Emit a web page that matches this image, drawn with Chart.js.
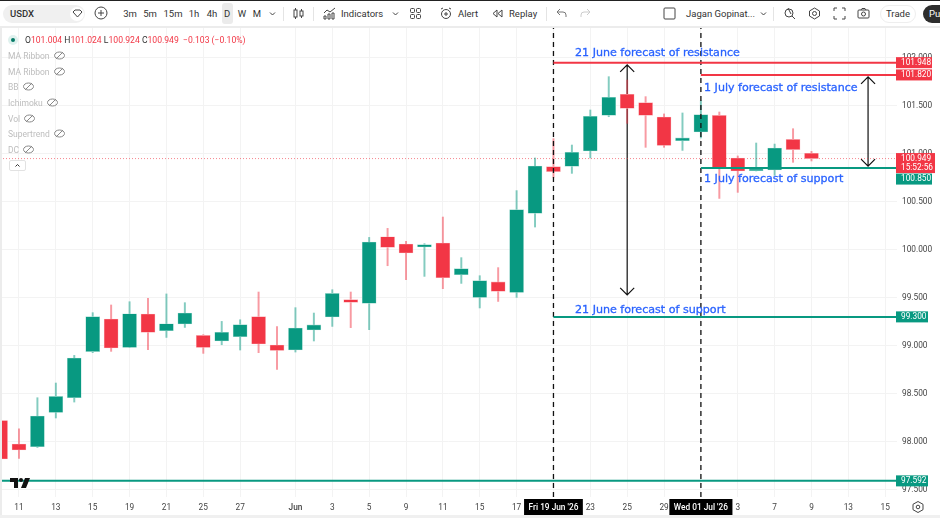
<!DOCTYPE html>
<html>
<head>
<meta charset="utf-8">
<title>USDX</title>
<script src="https://cdn.jsdelivr.net/npm/chart.js@4/dist/chart.umd.min.js"></script>
<style>
  html, body { margin: 0; padding: 0; background: #fff; }
  #wrap { position: relative; width: 940px; height: 518px; overflow: hidden; font-family: Roboto, sans-serif; }
  canvas { position: absolute; left: 0; top: 0; }
  #bar { position: absolute; left: 0; top: 0; width: 940px; height: 26px; background: #fff; border-top: 1px solid #222; box-sizing: border-box; }
  #sep { position: absolute; left: 0; top: 26px; width: 940px; height: 2px; background: #ececec; }
  #side { position: absolute; left: 0; top: 26px; width: 2px; height: 492px; background: #ececec; }
  #foot { position: absolute; left: 0; top: 515px; width: 940px; height: 3px; background: #f0f0f0; }
  .t { position: absolute; top: 12px; transform: translateY(-50%); font-size: 9.5px; color: #333; white-space: nowrap; }
  .c { transform: translate(-50%, -50%); }
  .v { position: absolute; width: 1px; height: 14px; top: 6px; background: #e4e4e4; }
  svg.i { position: absolute; top: 6px; width: 13px; height: 13px; fill: none; stroke: #444; stroke-width: 1; }
  #pill { position: absolute; left: 3px; top: 4px; width: 82px; height: 18px; border-radius: 9px; background: #f0f0f0; }
  #dia { position: absolute; left: 70px; top: 6px; width: 14px; height: 14px; border-radius: 7px; background: #fff; }
  #dbox { position: absolute; left: 222px; top: 2px; width: 11px; height: 21px; border-radius: 3px; background: #ebebeb; }
  #trade { position: absolute; left: 880px; top: 4px; width: 36px; height: 18px; border-radius: 9px; border: 1px solid #eee; box-sizing: border-box; }
  #pub { position: absolute; left: 923px; top: 4px; width: 30px; height: 18px; border-radius: 9px; background: #2e2e2e; color: #fff; font-size: 9.5px; line-height: 18px; padding-left: 6px; box-sizing: border-box; }
  .leg { position: absolute; left: 8px; font-size: 8.5px; color: #bdbdbd; transform: translateY(-50%); white-space: nowrap; }
  .leg svg { width: 11px; height: 9px; vertical-align: -1px; margin-left: 4px; fill: none; stroke: #888; stroke-width: 1; }
  #ohlc { position: absolute; left: 25px; top: 40px; transform: translateY(-50%); font-size: 8.6px; color: #f23645; white-space: nowrap; }
  #ohlc b { color: #333; font-weight: 400; }
  #dot { position: absolute; left: 8px; top: 34.500px; width: 10px; height: 10px; border-radius: 5px; background: #dff1ee; }
  #dot i { position: absolute; left: 3px; top: 3px; width: 4px; height: 4px; border-radius: 2px; background: #067a66; }
  #up { position: absolute; left: 9px; top: 160px; width: 17px; height: 11px; border: 1px solid #e2e2e2; border-radius: 2px; background: #fff; box-sizing: border-box; }
  #logo { position: absolute; left: 10px; top: 478px; width: 20px; height: 10px; }
  #gear { position: absolute; left: 912px; top: 501px; width: 12px; height: 12px; fill: none; stroke: #444; stroke-width: 1; }
</style>
</head>
<body>
<div id="wrap">
  <canvas id="chart" width="940" height="518"></canvas>
  <div id="bar">
    <div id="pill"></div><div id="dia"></div><div id="dbox"></div><div id="trade"></div>
    <span class="t" style="left:10px;font-weight:500">USDX</span>
    <svg class="i" style="left:71px" viewBox="0 0 13 13"><path d="M2 5l2-2h5l2 2-4.500 5z"/></svg>
    <svg class="i" style="left:94px;top:5px;width:14px;height:14px" viewBox="0 0 14 14"><circle cx="7" cy="7" r="6"/><path d="M7 4v6M4 7h6"/></svg>
    <span class="t c" style="left:130px">3m</span>
    <span class="t c" style="left:150px">5m</span>
    <span class="t c" style="left:173px">15m</span>
    <span class="t c" style="left:194px">1h</span>
    <span class="t c" style="left:212px">4h</span>
    <span class="t c" style="left:227px">D</span>
    <span class="t c" style="left:242px">W</span>
    <span class="t c" style="left:257px">M</span>
    <svg class="i" style="left:266px" viewBox="0 0 13 13"><path d="M4 5.500l2.500 2.500 2.500-2.500"/></svg>
    <div class="v" style="left:283px"></div>
    <svg class="i" style="left:292px" viewBox="0 0 13 13"><rect x="2" y="3" width="3" height="7"/><rect x="8" y="4" width="3" height="5"/><path d="M3.500 1v2M3.500 10v2M9.500 2v2M9.500 9v2"/></svg>
    <div class="v" style="left:313px"></div>
    <svg class="i" style="left:323px" viewBox="0 0 13 13"><path d="M1 6l3-3 3 2 5-4M1 12V9h2v3zM5 12V7h2v5zM9 12V6h2v6z"/></svg>
    <span class="t" style="left:341px">Indicators</span>
    <svg class="i" style="left:389px" viewBox="0 0 13 13"><path d="M4 5.500l2.500 2.500 2.500-2.500"/></svg>
    <svg class="i" style="left:409px" viewBox="0 0 13 13"><rect x="1.500" y="1.500" width="4" height="4" rx="1"/><rect x="7.500" y="1.500" width="4" height="4" rx="1"/><rect x="1.500" y="7.500" width="4" height="4" rx="1"/><rect x="7.500" y="7.500" width="4" height="4" rx="1"/></svg>
    <svg class="i" style="left:440px" viewBox="0 0 13 13"><circle cx="6" cy="7" r="4.500"/><path d="M6 5v4M4 7h4M1 2l2-1M11 2l-2-1"/></svg>
    <span class="t" style="left:458px">Alert</span>
    <svg class="i" style="left:491px" viewBox="0 0 13 13"><path d="M6 3L2 6.500 6 10zM11 3L7 6.500l4 3.500z"/></svg>
    <span class="t" style="left:509px">Replay</span>
    <div class="v" style="left:546px"></div>
    <svg class="i" style="left:555px;stroke:#777" viewBox="0 0 13 13"><path d="M2 5h6a3 3 0 0 1 3 3v2M2 5l3-3M2 5l3 3"/></svg>
    <svg class="i" style="left:579px;stroke:#ccc" viewBox="0 0 13 13"><path d="M11 5H5a3 3 0 0 0-3 3v2M11 5L8 2M11 5L8 8"/></svg>
    <svg class="i" style="left:663px" viewBox="0 0 13 13"><rect x="1" y="1" width="11" height="11" rx="1"/></svg>
    <span class="t" style="left:686px">Jagan Gopinat...</span>
    <svg class="i" style="left:757px" viewBox="0 0 13 13"><path d="M4 5.500l2.500 2.500 2.500-2.500"/></svg>
    <div class="v" style="left:773px"></div>
    <svg class="i" style="left:783px" viewBox="0 0 13 13"><circle cx="6" cy="6" r="4"/><path d="M9 9l3 3M5 1l3 6"/></svg>
    <svg class="i" style="left:808px" viewBox="0 0 13 13"><path d="M6.500 1l5 3v5l-5 3-5-3V4z"/><circle cx="6.500" cy="6.500" r="2"/></svg>
    <svg class="i" style="left:833px" viewBox="0 0 13 13"><path d="M1 4V1h3M9 1h3v3M12 9v3H9M4 12H1V9"/></svg>
    <svg class="i" style="left:857px" viewBox="0 0 13 13"><rect x="1" y="3" width="11" height="8" rx="1"/><circle cx="6.500" cy="7" r="2"/><path d="M4 3l1-1.500h3L9 3"/></svg>
    <span class="t c" style="left:898px">Trade</span>
    <div id="pub">Pu</div>
  </div>
  <div id="sep"></div>
  <div id="side"></div>
  <div id="foot"></div>
  <div id="dot"><i></i></div>
  <div id="ohlc"><b>O</b>101.004 <b>H</b>101.024 <b>L</b>100.924 <b>C</b>100.949 &nbsp;−0.103 (−0.10%)</div>
  <div class="leg" style="top:55.500px">MA Ribbon<svg viewBox="0 0 11 9"><ellipse cx="5.500" cy="4.500" rx="5" ry="3.500"/><path d="M2 8l7-7"/></svg></div>
  <div class="leg" style="top:71.500px">MA Ribbon<svg viewBox="0 0 11 9"><ellipse cx="5.500" cy="4.500" rx="5" ry="3.500"/><path d="M2 8l7-7"/></svg></div>
  <div class="leg" style="top:86.500px">BB<svg viewBox="0 0 11 9"><ellipse cx="5.500" cy="4.500" rx="5" ry="3.500"/><path d="M2 8l7-7"/></svg></div>
  <div class="leg" style="top:102.500px">Ichimoku<svg viewBox="0 0 11 9"><ellipse cx="5.500" cy="4.500" rx="5" ry="3.500"/><path d="M2 8l7-7"/></svg></div>
  <div class="leg" style="top:118.500px">Vol<svg viewBox="0 0 11 9"><ellipse cx="5.500" cy="4.500" rx="5" ry="3.500"/><path d="M2 8l7-7"/></svg></div>
  <div class="leg" style="top:133.500px">Supertrend<svg viewBox="0 0 11 9"><ellipse cx="5.500" cy="4.500" rx="5" ry="3.500"/><path d="M2 8l7-7"/></svg></div>
  <div class="leg" style="top:149.500px">DC<svg viewBox="0 0 11 9"><ellipse cx="5.500" cy="4.500" rx="5" ry="3.500"/><path d="M2 8l7-7"/></svg></div>
  <div id="up"><svg viewBox="0 0 15 9" style="display:block;width:15px;height:9px;fill:none;stroke:#333"><path d="M5.500 5.500l2-2 2 2"/></svg></div>
  <svg id="logo" viewBox="0 0 20 10"><path d="M0 0h8v10H4V4H0z" fill="#111"/><circle cx="11" cy="2" r="2" fill="#111"/><path d="M15 0h5l-4 10h-5z" fill="#111"/></svg>
  <svg id="gear" viewBox="0 0 12 12"><path d="M6 .5l5 2.800v5.400l-5 2.800-5-2.800V3.300z"/><circle cx="6" cy="6" r="1.800"/></svg>
</div>

<script>
// daily candles, 8 May to 9 Jul
const opens = [98.22, 97.976, 97.948, 98.305, 98.458, 98.938, 99.278, 98.982, 99.33, 99.156, 99.226, 99.107, 99.049, 99.094, 99.302, 99.007, 98.955, 99.164, 99.299, 99.479, 99.441, 100.135, 100.059, 100.028, 100.07, 99.74, 99.503, 99.664, 99.555, 100.378, 100.865, 100.868, 101.028, 101.399, 101.618, 101.531, 101.382, 101.135, 101.226, 101.399, 100.955, 100.823, 100.83, 101.149, 101.004];
const highs = [98.22, 98.135, 98.458, 98.611, 98.899, 99.344, 99.424, 99.458, 99.493, 99.539, 99.448, 99.115, 99.253, 99.27, 99.559, 99.198, 99.396, 99.34, 99.583, 99.559, 100.128, 100.222, 100.086, 100.063, 100.34, 99.917, 99.729, 99.813, 100.615, 100.955, 101.156, 101.09, 101.455, 101.802, 101.767, 101.594, 101.414, 101.424, 101.552, 101.434, 100.976, 101.111, 101.1, 101.26, 101.024];
const lows = [97.82, 97.826, 97.94, 98.247, 98.413, 98.927, 98.941, 98.982, 98.958, 99.086, 99.19, 98.92, 99.01, 98.955, 98.927, 98.753, 98.934, 99.049, 99.201, 99.188, 99.167, 99.833, 99.688, 99.722, 99.594, 99.649, 99.393, 99.461, 99.503, 100.236, 100.753, 100.795, 100.955, 101.385, 101.316, 101.066, 101.066, 101.034, 101.164, 100.534, 100.597, 100.82, 100.774, 100.91, 100.924];
const closes = [97.82, 97.914, 98.268, 98.472, 98.872, 99.302, 98.976, 99.333, 99.139, 99.229, 99.34, 98.982, 99.139, 99.219, 99.018, 98.951, 99.184, 99.216, 99.545, 99.451, 100.08, 100.024, 99.966, 100.052, 99.708, 99.802, 99.677, 99.566, 100.417, 100.872, 100.813, 101.014, 101.389, 101.587, 101.472, 101.399, 101.086, 101.164, 101.406, 100.847, 100.82, 100.841, 101.059, 101.042, 100.949];

// time axis, position counted in trading days from the first candle
const tickDays = [1, 3, 5, 7, 9, 11, 13, 16, 18, 20, 22, 24, 26, 28, 30, 32, 34, 36, 38, 40, 42, 44, 46, 48];
const tickLabels = ["11", "13", "15", "19", "21", "25", "27", "Jun", "3", "5", "9", "11", "15", "17", "Fri 19 Jun '26", "23", "25", "29", "Wed 01 Jul '26", "3", "7", "9", "13", "15"];
const priceTicks = [97.5, 98, 98.5, 99, 99.5, 100, 100.5, 101, 101.5, 102];

// forecast levels
const lastPrice = 100.949;
const resistJune = 101.948;
const supportJune = 99.3;
const resistJuly = 101.82;
const supportJuly = 100.85;
const floorLevel = 97.592;
const dayJune = 30;
const dayJuly = 38;

const noteTexts = ["21 June forecast of resistance", "1 July forecast of resistance", "1 July forecast of support", "21 June forecast of support"];
const noteDays = [31.17, 38.17, 38.17, 31.17];
const notePrices = [102.052, 101.688, 100.74, 99.37];

const GREEN = "#089981";
const RED = "#f23645";
const X_MIN = -0.03;
const X_MAX = 48.64;
const Y_MIN = 97.424;
const Y_MAX = 102.309;

const isUp = (i) => closes[i] >= opens[i];
// scale level contexts have no tick, only the per label ones do
const isCursorTick = (c) => !!c.tick && (c.tick.value === dayJune || c.tick.value === dayJuly);

const bodies = opens.map((o, i) => ({ x: i, y: [Math.min(o, closes[i]), Math.max(o, closes[i])] }));
const wicks = opens.map((o, i) => ({ x: i, y: [lows[i], highs[i]] }));

function level(from, price, color, width) {
  return {
    type: "line",
    data: [{ x: from, y: price }, { x: X_MAX, y: price }],
    borderColor: color,
    borderWidth: width,
    pointRadius: 0,
    order: 0,
  };
}

function vertical(day) {
  return {
    type: "line",
    data: [{ x: day, y: Y_MIN }, { x: day, y: Y_MAX }],
    borderColor: "#111",
    borderWidth: 1.3,
    borderDash: [5, 4],
    pointRadius: 0,
    order: 0,
  };
}

// arrows sit behind the candles, the labels and tags on top of everything
const overlays = {
  id: "overlays",
  beforeDatasetsDraw(chart) {
    const { x, y } = chart.scales;
    const ctx = chart.ctx;
    ctx.save();
    ctx.strokeStyle = "#111";
    ctx.lineWidth = 1.2;
    arrow(ctx, x.getPixelForValue(34), y.getPixelForValue(101.925), y.getPixelForValue(99.53));
    arrow(ctx, x.getPixelForValue(47.07), y.getPixelForValue(101.8), y.getPixelForValue(100.87));
    ctx.restore();
  },
  afterDraw(chart) {
    const { x, y } = chart.scales;
    const ctx = chart.ctx;
    ctx.save();
    ctx.fillStyle = "#2962ff";
    ctx.strokeStyle = "#2962ff";
    ctx.lineWidth = 0.3;
    ctx.font = "11.100px 'DejaVu Sans'";
    ctx.textBaseline = "middle";
    noteTexts.forEach((text, i) => {
      const px = x.getPixelForValue(noteDays[i]);
      const py = y.getPixelForValue(notePrices[i]);
      ctx.fillText(text, px, py);
      ctx.strokeText(text, px, py);
    });
    tag(ctx, y.getPixelForValue(resistJune), RED, resistJune.toFixed(3));
    tag(ctx, y.getPixelForValue(resistJuly), RED, resistJuly.toFixed(3));
    tag(ctx, y.getPixelForValue(lastPrice), RED, lastPrice.toFixed(3), "15:52:56");
    tag(ctx, y.getPixelForValue(supportJuly) + 11, GREEN, supportJuly.toFixed(3));
    tag(ctx, y.getPixelForValue(supportJune), GREEN, supportJune.toFixed(3));
    tag(ctx, y.getPixelForValue(floorLevel), GREEN, floorLevel.toFixed(3));
    ctx.restore();
  },
};

function arrow(ctx, px, top, bottom) {
  ctx.beginPath();
  ctx.moveTo(px, top);
  ctx.lineTo(px, bottom);
  ctx.moveTo(px - 7, top + 7);
  ctx.lineTo(px, top);
  ctx.lineTo(px + 7, top + 7);
  ctx.moveTo(px - 7, bottom - 7);
  ctx.lineTo(px, bottom);
  ctx.lineTo(px + 7, bottom - 7);
  ctx.stroke();
}

function tag(ctx, py, color, text, extra) {
  const h = extra ? 20 : 11;
  const w = extra ? 39 : text.length > 6 ? 36 : 32;
  ctx.fillStyle = color;
  ctx.fillRect(896, py - 5.5, w, h);
  ctx.fillStyle = "#fff";
  ctx.font = "8.300px Roboto";
  ctx.textAlign = "left";
  ctx.textBaseline = "middle";
  ctx.fillText(text, 901, py);
  if (extra) ctx.fillText(extra, 901, py + 9.500);
}

new Chart(document.getElementById("chart"), {
  type: "bar",
  data: {
    datasets: [
      level(X_MIN, floorLevel, GREEN, 2),
      level(dayJune, supportJune, GREEN, 2),
      level(dayJune, resistJune, RED, 2),
      level(dayJuly, resistJuly, RED, 2),
      level(dayJuly, supportJuly, GREEN, 2),
      vertical(dayJune),
      vertical(dayJuly),
      {
        data: bodies,
        barThickness: 14,
        grouped: false,
        order: 1,
        backgroundColor: (c) => (isUp(c.dataIndex) ? GREEN : RED),
        borderColor: (c) => (isUp(c.dataIndex) ? "#a6dcd2" : "#f9b3b9"),
        borderWidth: 0.6,
        borderSkipped: false,
      },
      {
        data: wicks,
        barThickness: 1.300,
        grouped: false,
        order: 2,
        backgroundColor: (c) => (isUp(c.dataIndex) ? "rgba(8,153,129,0.5)" : "rgba(242,54,69,0.5)"),
      },
      {
        type: "line",
        data: [{ x: X_MIN, y: lastPrice }, { x: X_MAX, y: lastPrice }],
        borderColor: "rgba(242,54,69,0.6)",
        borderWidth: 1,
        borderDash: [1, 2],
        pointRadius: 0,
        order: 3,
      },
    ],
  },
  options: {
    responsive: false,
    animation: false,
    layout: { padding: { top: 28 } },
    plugins: { legend: { display: false }, tooltip: { enabled: false } },
    scales: {
      x: {
        type: "linear",
        min: X_MIN,
        max: X_MAX,
        offset: false,
        afterFit(scale) { scale.height = 21; },
        afterBuildTicks(scale) { scale.ticks = tickDays.map((d) => ({ value: d })); },
        grid: { color: "#f3f3f3", drawTicks: false, offset: false },
        border: { display: false },
        ticks: {
          autoSkip: false,
          maxRotation: 0,
          padding: 6,
          color: (c) => (isCursorTick(c) ? "#fff" : "#444"),
          font: (c) => ({ family: "Roboto", size: 8.3, weight: (c.tick && c.tick.value === 16) || isCursorTick(c) ? "500" : "normal" }),
          showLabelBackdrop: isCursorTick,
          backdropColor: "#000",
          backdropPadding: { x: 4.500, y: 4 },
          callback: (v, i) => tickLabels[i],
        },
      },
      y: {
        position: "right",
        min: Y_MIN,
        max: Y_MAX,
        afterFit(scale) { scale.width = 43; },
        afterBuildTicks(scale) { scale.ticks = priceTicks.map((p) => ({ value: p })); },
        grid: { color: "#f3f3f3", drawTicks: false },
        border: { display: false },
        ticks: {
          color: "#444",
          padding: 5,
          crossAlign: "near",
          font: { family: "Roboto", size: 8.3 },
          callback: (v) => v.toFixed(3),
        },
      },
    },
  },
  plugins: [overlays],
});
</script>
</body>
</html>
